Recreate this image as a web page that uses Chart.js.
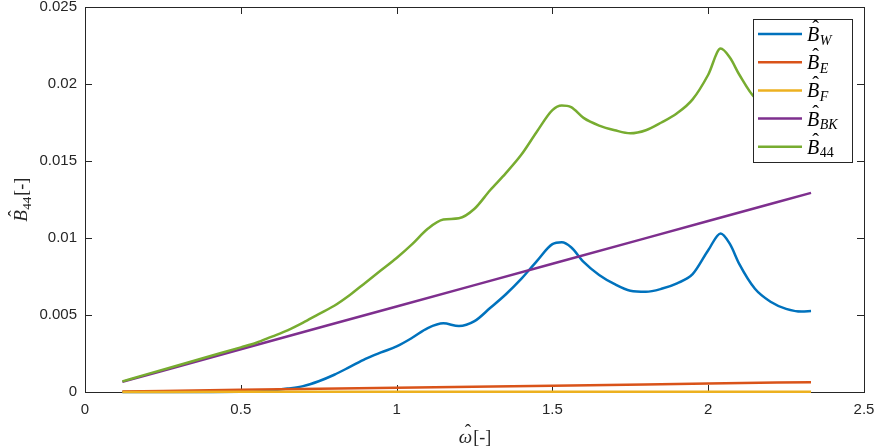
<!DOCTYPE html>
<html>
<head>
<meta charset="utf-8">
<script src="https://cdn.jsdelivr.net/npm/chart.js@4.4.0/dist/chart.umd.min.js"></script>
<style>
  html, body { margin: 0; padding: 0; background: #fff; }
  canvas { display: block; }
</style>
</head>
<body>
<canvas id="dampChart" width="875" height="448"></canvas>
<script>
// frequency grid for the wave and total damping curves
const omega = [0.12, 0.2, 0.3, 0.4, 0.5, 0.55, 0.6, 0.65, 0.7, 0.75, 0.8, 0.85, 0.9, 0.95,
  1.0, 1.05, 1.1, 1.15, 1.2, 1.25, 1.3, 1.35, 1.4, 1.45, 1.5, 1.53, 1.56, 1.6, 1.65, 1.7,
  1.75, 1.8, 1.85, 1.9, 1.95, 2.0, 2.04, 2.07, 2.1, 2.15, 2.2, 2.25, 2.3, 2.33];

const bW = [0, 0, 0, 0, 0.00001, 0.00003, 0.0001, 0.00022, 0.00038, 0.0007, 0.00112, 0.00163,
  0.00215, 0.00257, 0.00296, 0.00352, 0.00415, 0.00446, 0.00428, 0.0046, 0.00545, 0.00633,
  0.00734, 0.0085, 0.0096, 0.00972, 0.0094, 0.00845, 0.0076, 0.007, 0.00658, 0.00651, 0.0067,
  0.00706, 0.00765, 0.0092, 0.0103, 0.0096, 0.0083, 0.0067, 0.00586, 0.0054, 0.00522, 0.00526];

const b44 = [0.00069, 0.00116, 0.00174, 0.00232, 0.0029, 0.0032, 0.0036, 0.004, 0.0045, 0.00506,
  0.0056, 0.0063, 0.0071, 0.0079, 0.0087, 0.0096, 0.0106, 0.0112, 0.01128, 0.0119, 0.0131,
  0.0142, 0.0154, 0.0169, 0.0183, 0.0186, 0.0185, 0.0178, 0.0173, 0.017, 0.0168, 0.017, 0.0175,
  0.0181, 0.019, 0.0206, 0.0223, 0.0217, 0.0206, 0.0191, 0.0187, 0.0187, 0.0189, 0.019];

// the straight components only need a few points
const omegaLin = [0.12, 0.5, 1.0, 1.5, 2.0, 2.33];
const bE = [0.00003, 0.00014, 0.00028, 0.00041, 0.00055, 0.00064];
const bF = [0.000005, 0.00001, 0.00001, 0.00002, 0.00002, 0.00002];
const bBK = [0.00066, 0.00278, 0.00555, 0.00833, 0.0111, 0.01293];

const legendSubs = ['W', 'E', 'F', 'BK', '44'];

const xTicks = [0, 0.5, 1, 1.5, 2, 2.5];
const xTickLabels = ['0', '0.5', '1', '1.5', '2', '2.5'];
const yTicks = [0, 0.005, 0.01, 0.015, 0.02, 0.025];
const yTickLabels = ['0', '0.005', '0.01', '0.015', '0.02', '0.025'];

const SANS = '"Liberation Sans", Arial, sans-serif';
const SERIF = '"Liberation Serif", "DejaVu Serif", serif';
const INK = '#262626';

function pts(xs, ys) {
  return xs.map((x, i) => ({ x: x, y: ys[i] }));
}

// italic letter with a hat on top, returns the letter width
function hatted(ctx, ch, x, base, size) {
  ctx.font = `italic ${size}px ${SERIF}`;
  ctx.textAlign = 'left';
  ctx.fillText(ch, x, base);
  const w = ctx.measureText(ch).width;
  ctx.font = `${size}px ${SERIF}`;
  ctx.textAlign = 'center';
  ctx.fillText('\u02C6', x + w * 0.5 + size * 0.12, base - size * 0.3);
  ctx.textAlign = 'left';
  return w;
}

function plain(ctx, txt, x, base, size, italic) {
  ctx.font = `${italic ? 'italic ' : ''}${size}px ${SERIF}`;
  ctx.textAlign = 'left';
  ctx.fillText(txt, x, base);
  return ctx.measureText(txt).width;
}

// box around the axes with inward ticks on all four sides
const frame = {
  id: 'frame',
  beforeDatasetsDraw(chart) {
    const { ctx, chartArea: a, scales: { x, y } } = chart;
    ctx.save();
    ctx.strokeStyle = INK;
    ctx.lineWidth = 1;
    ctx.strokeRect(a.left + 0.5, a.top + 0.5, a.right - a.left, a.bottom - a.top);
    ctx.beginPath();
    xTicks.forEach(v => {
      const px = Math.round(x.getPixelForValue(v)) + 0.5;
      ctx.moveTo(px, a.bottom); ctx.lineTo(px, a.bottom - 7);
      ctx.moveTo(px, a.top); ctx.lineTo(px, a.top + 7);
    });
    yTicks.forEach(v => {
      const py = Math.round(y.getPixelForValue(v)) + 0.5;
      ctx.moveTo(a.left, py); ctx.lineTo(a.left + 7, py);
      ctx.moveTo(a.right, py); ctx.lineTo(a.right - 7, py);
    });
    ctx.stroke();
    ctx.restore();
  }
};

// legend box drawn over the lines, with hatted symbols and subscripts
const mathLegend = {
  id: 'mathLegend',
  afterDatasetsDraw(chart) {
    const { ctx, chartArea: a } = chart;
    const bx = a.right - 110.5, by = a.top + 12.5, bw = 99, bh = 143;
    ctx.save();
    ctx.fillStyle = '#fff';
    ctx.fillRect(bx, by, bw, bh);
    ctx.strokeStyle = INK;
    ctx.lineWidth = 1;
    ctx.strokeRect(bx, by, bw, bh);
    chart.data.datasets.forEach((ds, i) => {
      const cy = by + 14.5 + i * 28.2;
      ctx.strokeStyle = ds.borderColor;
      ctx.lineWidth = 2.5;
      ctx.beginPath();
      ctx.moveTo(bx + 4.5, cy);
      ctx.lineTo(bx + 48.5, cy);
      ctx.stroke();
      ctx.fillStyle = '#000';
      const tx = bx + 53.5;
      const w = hatted(ctx, 'B', tx, cy + 7, 20);
      const sub = legendSubs[i];
      plain(ctx, sub, tx + w + 0.5, cy + 10.5, 14, sub !== '44');
    });
    ctx.restore();
  }
};

// axis titles: omega-hat [-] and B-hat_44 [-]
const axisTitles = {
  id: 'axisTitles',
  afterDraw(chart) {
    const { ctx, chartArea: a } = chart;
    ctx.save();
    ctx.fillStyle = INK;

    ctx.font = `italic 19px ${SERIF}`;
    const wo = ctx.measureText('\u03C9').width;
    ctx.font = `18px ${SERIF}`;
    const wb = ctx.measureText('[-]').width;
    let x0 = (a.left + a.right) / 2 - (wo + wb) / 2;
    const w1 = hatted(ctx, '\u03C9', x0, 443, 19);
    plain(ctx, '[-]', x0 + w1 + 1, 443, 18, false);

    ctx.font = `italic 19px ${SERIF}`;
    const wB = ctx.measureText('B').width;
    ctx.font = `13px ${SERIF}`;
    const w44 = ctx.measureText('44').width;
    const total = wB + w44 + wb + 2;
    ctx.translate(27, (a.top + a.bottom) / 2 + total / 2);
    ctx.rotate(-Math.PI / 2);
    const w2 = hatted(ctx, 'B', 0, 0, 19);
    const w3 = plain(ctx, '44', w2 + 0.5, 4, 13, false);
    plain(ctx, '[-]', w2 + w3 + 1.5, 0, 18, false);
    ctx.restore();
  }
};

const colors = ['#0072BD', '#D95319', '#EDB120', '#7E2F8E', '#77AC30'];
const series = [pts(omega, bW), pts(omegaLin, bE), pts(omegaLin, bF), pts(omegaLin, bBK), pts(omega, b44)];

const ctx = document.getElementById('dampChart').getContext('2d');
const chart = new Chart(ctx, {
  type: 'line',
  data: {
    datasets: series.map((d, i) => ({
      label: legendSubs[i],
      data: d,
      borderColor: colors[i],
      backgroundColor: colors[i],
      borderWidth: 2.5,
      pointRadius: 0,
      cubicInterpolationMode: 'monotone',
      clip: false,
      order: 4 - i
    }))
  },
  options: {
    responsive: false,
    animation: false,
    layout: { padding: 0 },
    plugins: { legend: { display: false }, tooltip: { enabled: false } },
    scales: {
      x: {
        type: 'linear',
        min: 0,
        max: 2.5,
        grid: { display: false, drawTicks: false },
        border: { display: false },
        afterBuildTicks: s => { s.ticks = xTicks.map(v => ({ value: v })); },
        // fixed margins so the plot box sits where it should
        afterFit: s => { s.height = 56; s.paddingLeft = 0; s.paddingRight = 11; },
        ticks: {
          autoSkip: false,
          maxRotation: 0,
          padding: 9,
          color: INK,
          font: { family: SANS, size: 15 },
          callback: (v, i) => xTickLabels[i]
        }
      },
      y: {
        min: 0,
        max: 0.025,
        grid: { display: false, drawTicks: false },
        border: { display: false },
        afterBuildTicks: s => { s.ticks = yTicks.map(v => ({ value: v })); },
        afterFit: s => { s.width = 85; s.paddingTop = 7; s.paddingBottom = 0; },
        ticks: {
          autoSkip: false,
          padding: 8,
          color: INK,
          font: { family: SANS, size: 15, lineHeight: 1 },
          callback: (v, i) => yTickLabels[i]
        }
      }
    }
  },
  plugins: [frame, mathLegend, axisTitles]
});
</script>
</body>
</html>
